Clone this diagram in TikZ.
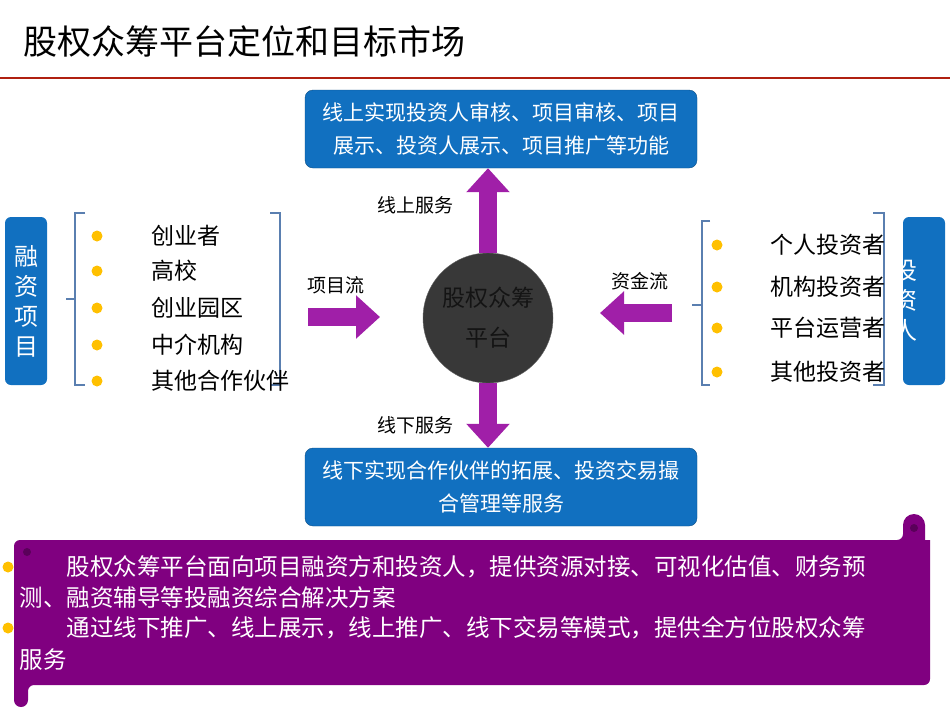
\documentclass[tikz,border=0pt]{standalone}
\usepackage{fontspec}
\setmainfont{Noto Sans CJK SC}
\usetikzlibrary{arrows.meta,positioning}
\definecolor{boxblue}{HTML}{1170C0}
\definecolor{flowpurple}{HTML}{A01FA8}
\definecolor{scrollpurple}{HTML}{800080}
\definecolor{bracketblue}{HTML}{5A7FB0}
\definecolor{dotyellow}{HTML}{FFC000}
\definecolor{titlered}{HTML}{B02010}
\tikzset{
  bluebox/.style={draw=boxblue!70!black, fill=boxblue, rounded corners=8pt, text=white,
    minimum width=392pt, minimum height=78pt, align=center, font=\fontsize{21}{33}\selectfont},
  sidebox/.style={fill=boxblue, rounded corners=6pt, text=white, minimum width=42pt,
    minimum height=168pt, align=center, font=\fontsize{24}{30}\selectfont},
  flow/.style={line width=18pt, flowpurple, -{Triangle[width=42pt,length=24pt]}},
  flowlabel/.style={font=\fontsize{19}{20}\selectfont},
  item/.style={font=\fontsize{23}{24}\selectfont, anchor=west},
  dot/.style={circle, fill=dotyellow, inner sep=0pt, minimum size=11pt},
  bracket/.style={bracketblue, line width=2.5pt},
  scrolltext/.style={text=white, font=\fontsize{23.5}{31}\selectfont, anchor=west}
}
\begin{document}
\begin{tikzpicture}[x=1pt,y=-1pt]
  \useasboundingbox[fill=white] (0,0) rectangle (950,713);
  % title
  \node[anchor=west, font=\fontsize{34}{36}\selectfont] (title) at (20,42) {股权众筹平台定位和目标市场};
  \draw[titlered, line width=2.5pt] (0,78) -- (950,78);
  % centre
  \node[circle, fill=black!78, draw=black!60, minimum size=130pt, align=center,
        font=\fontsize{23}{40}\selectfont, text=black!92] (hub) at (488,318) {股权众筹\\平台};
  \node[bluebox] (online) at (501,129) {线上实现投资人审核、项目审核、项目\\展示、投资人展示、项目推广等功能};
  \node[bluebox] (offline) at (501,487) {线下实现合作伙伴的拓展、投资交易撮\\合管理等服务};
  \draw[flow] (hub.north) -- (online.south -| hub.north);
  \draw[flow] (hub.south) -- (offline.north -| hub.south);
  \coordinate (pstart) at (308,317);
  \coordinate (fstart) at (672,313);
  \draw[flow] (pstart) -- (380,317);
  \draw[flow] (fstart) -- (600,313);
  \node[flowlabel] (onlbl) at (415,205) {线上服务};
  \node[flowlabel] (offlbl) at (415,425) {线下服务};
  \node[flowlabel] (plbl) at (336,285) {项目流};
  \node[flowlabel] (flbl) at (640,281) {资金流};
  % left side
  \node[sidebox] (fin) at (26,301) {融\\资\\项\\目};
  \draw[bracket] (85,213) -- (75,213) -- (75,385) -- (85,385) (75,299) -- (66,299);
  \draw[bracket] (270,213) -- (280,213) -- (280,385) -- (270,385);
  \foreach \y/\t [count=\i] in {236/创业者, 271/高校, 308/创业园区, 345/中介机构, 381/其他合作伙伴} {
    \node[dot] (ld\i) at (97,\y) {};
    \node[item] (lt\i) at (148,\y) {\t};
  }
  % right side
  \node[sidebox] (inv) at (924,301) {};
  \node[text=white, align=center, font=\fontsize{24}{30}\selectfont] (invtxt) at (905,300) {投\\资\\人};
  \draw[bracket] (710,221) -- (702,221) -- (702,385) -- (710,385) (702,305) -- (692,305);
  \draw[bracket] (873,213) -- (884,213) -- (884,385) -- (873,385);
  \foreach \y/\t [count=\i] in {245/个人投资者, 287/机构投资者, 328/平台运营者, 372/其他投资者} {
    \node[dot] (rd\i) at (717,\y) {};
    \node[item] (rt\i) at (767,\y) {\t};
  }
  % scroll
  \fill[scrollpurple] (903,540) -- (903,525) arc (180:360:11) -- (925,540) -- (930,540)
    [rounded corners=6pt] -- (930,685) -- (28,685) [sharp corners] -- (28,700) arc (0:180:7) -- (14,545)
    [rounded corners=6pt] -- (14,540) -- cycle;
  \fill[scrollpurple!70!black] (27,552) circle (4);
  \fill[scrollpurple!70!black] (914,528) circle (4);
  \node[dot] (sd1) at (8,567) {};
  \node[dot] (sd2) at (8,628) {};
  \node[scrolltext] (s1) at (16,567) {\hspace{47pt}股权众筹平台面向项目融资方和投资人，提供资源对接、可视化估值、财务预};
  \node[scrolltext] (s2) at (16,598) {测、融资辅导等投融资综合解决方案};
  \node[scrolltext] (s3) at (16,628) {\hspace{47pt}通过线下推广、线上展示，线上推广、线下交易等模式，提供全方位股权众筹};
  \node[scrolltext] (s4) at (16,660) {服务};
\end{tikzpicture}
\end{document}
